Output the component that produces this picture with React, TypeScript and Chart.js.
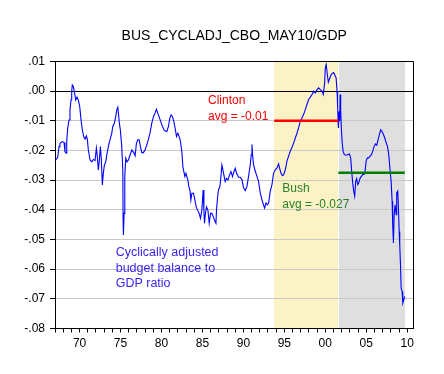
import React, { useEffect, useRef } from 'react';
import { Chart, registerables } from 'chart.js';

Chart.register(...registerables);

const TITLE = 'BUS_CYCLADJ_CBO_MAY10/GDP';

// Observation dates (decimal years) and values of the ratio
const obsYears = [
  1967.02, 1967.33, 1967.49, 1967.61, 1967.89, 1968.10, 1968.22, 1968.38, 1968.43, 1968.55,
  1968.71, 1968.83, 1968.96, 1969.04, 1969.11, 1969.24, 1969.36, 1969.53, 1969.69, 1969.85,
  1970.02, 1970.18, 1970.34, 1970.51, 1970.67, 1970.83, 1970.95, 1971.07, 1971.28, 1971.49,
  1971.68, 1971.89, 1972.05, 1972.17, 1972.29, 1972.42, 1972.54, 1972.66, 1972.78, 1972.90,
  1973.03, 1973.20, 1973.32, 1973.44, 1973.60, 1973.76, 1973.93, 1974.05, 1974.25, 1974.42,
  1974.54, 1974.67, 1974.74, 1974.86, 1974.98, 1975.15, 1975.28, 1975.31, 1975.35, 1975.44,
  1975.52, 1975.64, 1975.80, 1975.96, 1976.17, 1976.38, 1976.62, 1976.78, 1976.94, 1977.11,
  1977.27, 1977.43, 1977.60, 1977.79, 1978.00, 1978.21, 1978.41, 1978.61, 1978.82, 1979.02,
  1979.22, 1979.38, 1979.55, 1979.84, 1980.12, 1980.36, 1980.66, 1980.85, 1981.02, 1981.18,
  1981.34, 1981.51, 1981.67, 1981.83, 1982.00, 1982.16, 1982.32, 1982.49, 1982.61, 1982.73,
  1982.86, 1982.98, 1983.10, 1983.22, 1983.34, 1983.47, 1983.59, 1983.71, 1983.91, 1984.08,
  1984.24, 1984.40, 1984.60, 1984.76, 1984.93, 1985.09, 1985.18, 1985.25, 1985.37, 1985.50,
  1985.67, 1985.83, 1985.99, 1986.16, 1986.32, 1986.47, 1986.65, 1986.72, 1986.84, 1986.96,
  1987.13, 1987.26, 1987.38, 1987.50, 1987.66, 1987.78, 1987.94, 1988.11, 1988.31, 1988.48,
  1988.67, 1988.85, 1989.00, 1989.17, 1989.41, 1989.62, 1989.82, 1990.02, 1990.23, 1990.44,
  1990.63, 1990.84, 1990.96, 1991.05, 1991.12, 1991.24, 1991.45, 1991.66, 1991.85, 1992.06,
  1992.27, 1992.46, 1992.59, 1992.76, 1992.92, 1993.08, 1993.28, 1993.49, 1993.69, 1993.89,
  1994.10, 1994.30, 1994.42, 1994.59, 1994.75, 1994.91, 1995.12, 1995.32, 1995.52, 1995.73,
  1995.94, 1996.13, 1996.34, 1996.55, 1996.74, 1996.95, 1997.16, 1997.35, 1997.56, 1997.76,
  1997.97, 1998.17, 1998.38, 1998.58, 1998.78, 1998.99, 1999.19, 1999.40, 1999.60, 1999.76,
  1999.92, 2000.00, 2000.11, 2000.25, 2000.37, 2000.53, 2000.70, 2000.86, 2001.02, 2001.14,
  2001.32, 2001.44, 2001.51, 2001.60, 2001.68, 2001.76, 2001.81, 2001.88, 2001.96, 2002.05,
  2002.17, 2002.33, 2002.54, 2002.73, 2002.94, 2003.10, 2003.22, 2003.35, 2003.47, 2003.59,
  2003.71, 2003.83, 2003.96, 2004.08, 2004.25, 2004.41, 2004.57, 2004.74, 2004.86, 2004.98,
  2005.14, 2005.30, 2005.47, 2005.63, 2005.79, 2005.96, 2006.12, 2006.28, 2006.45, 2006.61,
  2006.77, 2006.94, 2007.10, 2007.26, 2007.43, 2007.59, 2007.75, 2007.92, 2008.04, 2008.16,
  2008.23, 2008.32, 2008.41, 2008.53, 2008.65, 2008.72, 2008.85, 2008.93, 2009.02, 2009.09,
  2009.18, 2009.26, 2009.38, 2009.46, 2009.58, 2009.70,
];

const ratioValues = [
  -0.0234, -0.0223, -0.0187, -0.0176, -0.0170, -0.0173, -0.0204, -0.0209, -0.0170, -0.0125,
  -0.0097, -0.0063, -0.0029, -0.0001, 0.0021, 0.0016, -0.0001, -0.0030, -0.0020, -0.0030,
  -0.0052, -0.0097, -0.0131, -0.0153, -0.0162, -0.0151, -0.0162, -0.0198, -0.0232, -0.0238,
  -0.0230, -0.0234, -0.0192, -0.0221, -0.0266, -0.0232, -0.0187, -0.0232, -0.0316, -0.0277,
  -0.0249, -0.0238, -0.0215, -0.0198, -0.0176, -0.0159, -0.0142, -0.0119, -0.0108, -0.0086,
  -0.0063, -0.0054, -0.0074, -0.0108, -0.0131, -0.0187, -0.0266, -0.0412, -0.0485, -0.0412,
  -0.0288, -0.0226, -0.0238, -0.0232, -0.0215, -0.0198, -0.0207, -0.0218, -0.0176, -0.0164,
  -0.0164, -0.0187, -0.0207, -0.0207, -0.0198, -0.0181, -0.0162, -0.0140, -0.0108, -0.0086,
  -0.0074, -0.0061, -0.0074, -0.0097, -0.0119, -0.0133, -0.0136, -0.0119, -0.0091, -0.0080,
  -0.0086, -0.0103, -0.0125, -0.0153, -0.0142, -0.0153, -0.0170, -0.0204, -0.0254, -0.0271,
  -0.0288, -0.0277, -0.0288, -0.0299, -0.0322, -0.0333, -0.0367, -0.0344, -0.0344, -0.0367,
  -0.0390, -0.0401, -0.0412, -0.0429, -0.0401, -0.0333, -0.0401, -0.0445, -0.0412, -0.0390,
  -0.0401, -0.0445, -0.0412, -0.0412, -0.0423, -0.0434, -0.0445, -0.0401, -0.0361, -0.0333,
  -0.0322, -0.0288, -0.0249, -0.0266, -0.0288, -0.0305, -0.0294, -0.0299, -0.0282, -0.0271,
  -0.0288, -0.0271, -0.0260, -0.0277, -0.0290, -0.0290, -0.0298, -0.0326, -0.0335, -0.0321,
  -0.0287, -0.0248, -0.0214, -0.0180, -0.0214, -0.0248, -0.0270, -0.0287, -0.0304, -0.0343,
  -0.0366, -0.0383, -0.0394, -0.0377, -0.0383, -0.0377, -0.0338, -0.0315, -0.0276, -0.0265,
  -0.0259, -0.0245, -0.0259, -0.0276, -0.0284, -0.0282, -0.0265, -0.0236, -0.0219, -0.0202,
  -0.0189, -0.0175, -0.0158, -0.0141, -0.0124, -0.0101, -0.0090, -0.0079, -0.0062, -0.0045,
  -0.0028, -0.0020, -0.0011, 0.0000, -0.0006, 0.0005, 0.0011, 0.0005, 0.0000, -0.0011,
  0.0028, 0.0079, 0.0090, 0.0056, 0.0030, 0.0042, 0.0055, 0.0060, 0.0063, 0.0056,
  0.0045, 0.0000, -0.0056, -0.0124, -0.0068, -0.0101, -0.0011, -0.0068, -0.0124, -0.0169,
  -0.0202, -0.0214, -0.0216, -0.0214, -0.0212, -0.0225, -0.0270, -0.0310, -0.0337, -0.0354,
  -0.0304, -0.0295, -0.0315, -0.0310, -0.0293, -0.0287, -0.0281, -0.0281, -0.0270, -0.0236,
  -0.0225, -0.0225, -0.0219, -0.0214, -0.0202, -0.0186, -0.0178, -0.0182, -0.0163, -0.0146,
  -0.0130, -0.0137, -0.0146, -0.0158, -0.0174, -0.0186, -0.0214, -0.0270, -0.0304, -0.0371,
  -0.0450, -0.0512, -0.0416, -0.0383, -0.0416, -0.0343, -0.0337, -0.0394, -0.0473, -0.0518,
  -0.0585, -0.0664, -0.0675, -0.0714, -0.0703, -0.0692,
];

// Presidential terms (shaded) and their averages
const clintonTerm = [1993.77, 2001.6];
const bushTerm = [2001.6, 2009.7];
const clintonAvg = -0.01;
const bushAvg = -0.0275;

const clintonLabel = ['Clinton', 'avg = -0.01'];
const bushLabel = ['Bush', 'avg = -0.027'];
const noteLines = ['Cyclically adjusted', 'budget balance to', 'GDP ratio'];

const xRange = [1967, 2010.77];
const yRange = [-0.08, 0.01];

const FONT = '"Liberation Sans", Arial, Helvetica, sans-serif';

function fmtY(v: number): string {
  if (Math.abs(v) < 1e-9) return '.00';
  const s = Math.abs(v).toFixed(2).replace(/^0/, '');
  return (v < 0 ? '-' : '') + s;
}

export default function App() {
  const ref = useRef<HTMLCanvasElement>(null);

  useEffect(() => {
    const canvas = ref.current;
    if (!canvas) return;

    const overlay = {
      id: 'overlay',
      beforeDraw(chart: any) {
        const { ctx, chartArea: a, scales } = chart;
        const x = scales.x;
        const c0 = Math.round(x.getPixelForValue(clintonTerm[0]));
        const c1 = Math.round(x.getPixelForValue(clintonTerm[1]));
        const b1 = Math.round(x.getPixelForValue(bushTerm[1]));
        ctx.save();
        ctx.fillStyle = '#fbf2c6';
        ctx.fillRect(c0, a.top, c1 - c0, a.bottom - a.top);
        ctx.fillStyle = '#dfdfdf';
        ctx.fillRect(c1 + 1, a.top, b1 - c1 - 1, a.bottom - a.top);
        ctx.restore();
      },
      afterDraw(chart: any) {
        const { ctx, chartArea: a, scales } = chart;
        const x = scales.x;
        const y = scales.y;
        ctx.save();
        // right frame line
        ctx.strokeStyle = '#000';
        ctx.lineWidth = 1;
        ctx.beginPath();
        ctx.moveTo(Math.round(a.right) + 0.5 - 1, a.top);
        ctx.lineTo(Math.round(a.right) + 0.5 - 1, a.bottom);
        ctx.stroke();

        // title
        ctx.fillStyle = '#000';
        ctx.font = `14px ${FONT}`;
        ctx.textAlign = 'center';
        ctx.textBaseline = 'alphabetic';
        ctx.fillText(TITLE, (a.left + a.right) / 2, 39.5);

        ctx.textAlign = 'left';
        ctx.font = `12px ${FONT}`;
        // Clinton
        ctx.fillStyle = '#ff0000';
        ctx.fillText(clintonLabel[0], x.getPixelForValue(1985.68), y.getPixelForValue(-0.0044));
        ctx.fillText(clintonLabel[1], x.getPixelForValue(1985.68), y.getPixelForValue(-0.0097));
        // Bush
        ctx.fillStyle = '#2a7f2a';
        ctx.fillText(bushLabel[0], x.getPixelForValue(1994.75), y.getPixelForValue(-0.0339));
        ctx.fillText(bushLabel[1], x.getPixelForValue(1994.75), y.getPixelForValue(-0.0395));
        // note
        ctx.fillStyle = '#3a24f0';
        ctx.font = `12.5px ${FONT}`;
        const noteY = [-0.0555, -0.0609, -0.0661];
        noteLines.forEach((t, i) => {
          ctx.fillText(t, x.getPixelForValue(1974.41), y.getPixelForValue(noteY[i]));
        });
        ctx.restore();
      },
    };

    const chart = new Chart(canvas, {
      type: 'line',
      data: {
        datasets: [
          {
            label: 'Clinton avg',
            data: [
              { x: clintonTerm[0], y: clintonAvg },
              { x: clintonTerm[1], y: clintonAvg },
            ],
            borderColor: '#ff0000',
            borderWidth: 2.5,
            pointRadius: 0,
            order: 0,
          },
          {
            label: 'Bush avg',
            data: [
              { x: bushTerm[0], y: bushAvg },
              { x: bushTerm[1], y: bushAvg },
            ],
            borderColor: '#007f00',
            borderWidth: 2.5,
            pointRadius: 0,
            order: 0,
          },
          {
            label: TITLE,
            data: obsYears.map((yr, i) => ({ x: yr, y: ratioValues[i] })),
            borderColor: '#0000ff',
            borderWidth: 1.1,
            pointRadius: 0,
            tension: 0,
            order: 1,
          },
        ],
      },
      options: {
        responsive: false,
        animation: false,
        events: [],
        layout: { padding: { top: 61.5, right: 30.5, left: 0, bottom: 0 } },
        plugins: {
          legend: { display: false },
          tooltip: { enabled: false },
          title: { display: false },
        },
        scales: {
          x: {
            type: 'linear',
            min: xRange[0],
            max: xRange[1],
            border: { display: true, color: '#000', width: 1 },
            grid: {
              drawOnChartArea: false,
              drawTicks: true,
              tickLength: 4,
              tickColor: '#000',
            },
            ticks: {
              stepSize: 1,
              includeBounds: false,
              autoSkip: false,
              maxTicksLimit: 100,
              maxRotation: 0,
              padding: 4,
              color: '#000',
              font: { family: FONT, size: 12 },
              callback: (v: any) => {
                const n = Math.round(Number(v));
                return n % 5 === 0 ? String(n % 100).padStart(2, '0') : '';
              },
            },
            afterFit: (s: any) => {
              s.height = 45.5;
            },
          },
          y: {
            type: 'linear',
            min: yRange[0],
            max: yRange[1],
            border: { display: true, color: '#000', width: 1 },
            grid: {
              drawTicks: true,
              tickLength: 5,
              tickColor: '#000',
              color: (c: any) => {
                const v = c.tick ? c.tick.value : 0;
                if (Math.abs(v) < 1e-9 || v > 0.0099 || v < -0.0799) return '#000';
                return '#c8c8c8';
              },
            },
            ticks: {
              stepSize: 0.01,
              padding: 5,
              color: '#000',
              font: { family: FONT, size: 12 },
              callback: (v: any) => fmtY(Number(v)),
            },
            afterFit: (s: any) => {
              s.width = 55;
            },
          },
        },
      },
      plugins: [overlay],
    });

    return () => chart.destroy();
  }, []);

  return (
    <div style={{ position: 'fixed', left: 0, top: 0, width: 444, height: 374, background: '#fff' }}>
      <canvas ref={ref} width={444} height={374} style={{ display: 'block', width: 444, height: 374 }} />
    </div>
  );
}
